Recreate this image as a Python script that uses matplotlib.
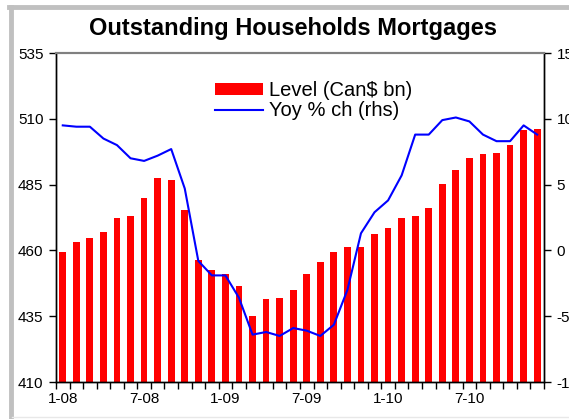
import numpy as np
import matplotlib
matplotlib.use('Agg')
from matplotlib import pyplot as plt
from matplotlib.lines import Line2D

plt.rcParams['font.family'] = ['Liberation Sans', 'DejaVu Sans']

# monthly, Jan 2008 - Dec 2010
months = ['1-08', '2-08', '3-08', '4-08', '5-08', '6-08', '7-08', '8-08', '9-08', '10-08', '11-08', '12-08',
          '1-09', '2-09', '3-09', '4-09', '5-09', '6-09', '7-09', '8-09', '9-09', '10-09', '11-09', '12-09',
          '1-10', '2-10', '3-10', '4-10', '5-10', '6-10', '7-10', '8-10', '9-10', '10-10', '11-10', '12-10']
level = [459.4, 463.2, 464.6, 466.9, 472.2, 473.1, 479.8, 487.5, 486.6, 475.3, 456.4, 452.6,
         451.0, 446.4, 435.2, 441.7, 442.0, 445.0, 451.0, 455.5, 459.4, 461.4, 461.4, 466.1,
         468.4, 472.2, 473.1, 476.0, 485.1, 490.4, 495.1, 496.5, 497.1, 500.2, 505.7, 506.3]
yoy = [9.5, 9.4, 9.4, 8.5, 8.0, 7.0, 6.8, 7.2, 7.7, 4.7, -0.8, -1.9,
       -1.9, -3.6, -6.4, -6.2, -6.5, -5.9, -6.1, -6.5, -5.65, -3.0, 1.3, 2.9,
       3.8, 5.7, 8.8, 8.8, 9.9, 10.1, 9.8, 8.8, 8.3, 8.3, 9.5, 8.8]
left_ticks = [410, 435, 460, 485, 510, 535]
right_ticks = [-10, -5, 0, 5, 10, 15]
label_months = ['1-08', '7-08', '1-09', '7-09', '1-10', '7-10']

fig = plt.figure(figsize=(5.69, 4.19), dpi=100)
ax = fig.add_axes([0.0984, 0.0883, 0.8576, 0.7852])
ax2 = ax.twinx()

x = np.arange(len(months))
bars = ax.bar(x, level, width=0.5, color='#ff0000', bottom=0)
ax.set_ylim(410, 535)
ax.set_xlim(-0.5, len(months) - 0.5)
ax.set_yticks(left_ticks)
ax.set_yticklabels([str(v) for v in left_ticks], fontsize=11)

line, = ax2.plot(x, yoy, color='#0000ff', lw=1.5)
ax2.set_ylim(-10, 15)
ax2.set_yticks(right_ticks)
ax2.set_yticklabels([str(v) for v in right_ticks], fontsize=11)

ax.set_xticks([months.index(m) for m in label_months])
ax.set_xticklabels(label_months, fontsize=11)
ax.set_xticks(np.arange(len(months) + 1) - 0.5, minor=True)
ax.tick_params(axis='x', which='major', length=0, pad=7)
ax.tick_params(axis='x', which='minor', length=5, width=1, direction='out')
ax.tick_params(axis='y', length=5, width=1, direction='out', pad=4)
ax2.tick_params(axis='y', length=5, width=1, direction='out', pad=4)

for a in (ax, ax2):
    a.spines['top'].set_color('#808080')
    a.spines['top'].set_linewidth(1.5)
    a.spines['left'].set_linewidth(1)
    a.spines['right'].set_linewidth(1)
    a.spines['bottom'].set_linewidth(1)

ax2.legend([bars, line], ['Level (Can$ bn)', 'Yoy % ch (rhs)'], loc='upper left',
           bbox_to_anchor=(0.288, 0.97), frameon=False, fontsize=14.5,
           handlelength=2.4, handleheight=0.5, handletextpad=0.3, labelspacing=0.05)

fig.text(0.515, 0.933, 'Outstanding Households Mortgages', ha='center', va='center',
         fontsize=17, fontweight='bold')

# outer gray frame
fig.add_artist(Line2D([10.5 / 569, 10.5 / 569], [0, 1 - 7 / 419], transform=fig.transFigure,
                      color='#c0c0c0', lw=3.5))
fig.add_artist(Line2D([8.5 / 569, 1], [1 - 7 / 419, 1 - 7 / 419], transform=fig.transFigure,
                      color='#c0c0c0', lw=3.5))
fig.add_artist(Line2D([12 / 569, 1], [2 / 419, 2 / 419], transform=fig.transFigure,
                      color='#e8e8e8', lw=1))

plt.savefig('out.png', dpi=100)
